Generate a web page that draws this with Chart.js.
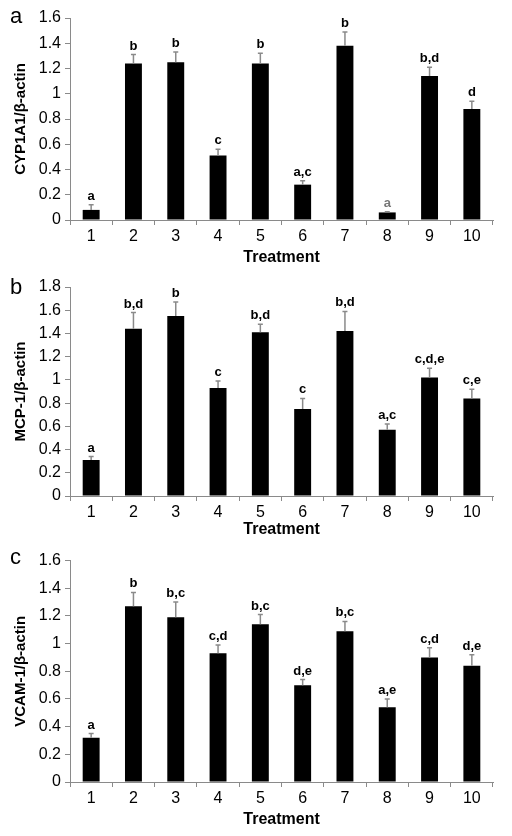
<!DOCTYPE html>
<html>
<head>
<meta charset="utf-8">
<script src="https://cdn.jsdelivr.net/npm/chart.js@4"></script>
<style>
  body { margin: 0; background: #fff; }
  .painel { position: absolute; left: 0; width: 512px; }
</style>
</head>
<body>
<div class="painel" style="top:0;height:270px"><canvas id="grafA"></canvas></div>
<div class="painel" style="top:270px;height:280px"><canvas id="grafB"></canvas></div>
<div class="painel" style="top:547px;height:289px"><canvas id="grafC"></canvas></div>
<script>
// Tratamentos (eixo x)
const tratamentos = ['1', '2', '3', '4', '5', '6', '7', '8', '9', '10'];

// Painel a - CYP1A1
const cypMedia = [0.08, 1.24, 1.25, 0.51, 1.24, 0.28, 1.38, 0.06, 1.14, 0.88];
const cypTopo  = [0.12, 1.31, 1.33, 0.56, 1.32, 0.31, 1.49, 0.065, 1.21, 0.94];
const cypLetras = ['a', 'b', 'b', 'c', 'b', 'a,c', 'b', 'a', 'b,d', 'd'];

// Painel b - MCP-1
const mcpMedia = [0.31, 1.44, 1.55, 0.93, 1.41, 0.75, 1.42, 0.57, 1.02, 0.84];
const mcpTopo  = [0.34, 1.58, 1.67, 0.99, 1.48, 0.84, 1.59, 0.62, 1.10, 0.92];
const mcpLetras = ['a', 'b,d', 'b', 'c', 'b,d', 'c', 'b,d', 'a,c', 'c,d,e', 'c,e'];

// Painel c - VCAM-1
const vcamMedia = [0.32, 1.27, 1.19, 0.93, 1.14, 0.70, 1.09, 0.54, 0.90, 0.84];
const vcamTopo  = [0.35, 1.37, 1.30, 0.99, 1.21, 0.74, 1.16, 0.60, 0.97, 0.92];
const vcamLetras = ['a', 'b', 'b,c', 'c,d', 'b,c', 'd,e', 'b,c', 'a,e', 'c,d', 'd,e'];

const fonte = "'Liberation Sans', Arial, sans-serif";
const cinza = '#8a8a8a';

// Plugin: barras de erro (só para cima) + letras de significância + letra do painel
const extras = {
  id: 'extras',
  afterDatasetsDraw(chart) {
    const o = chart.options.plugins.extras;
    const ctx = chart.ctx;
    const y = chart.scales.y;
    const meta = chart.getDatasetMeta(0);
    ctx.save();
    meta.data.forEach((bar, i) => {
      const cx = bar.x;
      const yTop = y.getPixelForValue(o.topo[i]);
      ctx.strokeStyle = cinza;
      ctx.lineWidth = 1.5;
      ctx.beginPath();
      ctx.moveTo(cx, bar.y);
      ctx.lineTo(cx, yTop);
      ctx.moveTo(cx - 2.5, yTop);
      ctx.lineTo(cx + 2.5, yTop);
      ctx.stroke();
      ctx.fillStyle = (o.cinzas || []).includes(i) ? '#777' : '#000';
      ctx.font = 'bold 13px ' + fonte;
      ctx.textAlign = 'center';
      ctx.textBaseline = 'alphabetic';
      ctx.fillText(o.letras[i], cx, yTop - 5);
    });
    ctx.fillStyle = '#000';
    ctx.font = '22px ' + fonte;
    ctx.textAlign = 'left';
    ctx.textBaseline = 'middle';
    ctx.fillText(o.painel, 10, o.painelY);
    ctx.restore();
  }
};

function criarGrafico(id, media, topo, letras, yMax, yTitulo, painel, padTop, painelY, eixoX, padBase, cinzas) {
  return new Chart(document.getElementById(id), {
    type: 'bar',
    data: {
      labels: tratamentos,
      datasets: [{
        data: media,
        backgroundColor: '#000',
        borderWidth: 0,
        barPercentage: 0.4,
        categoryPercentage: 1
      }]
    },
    options: {
      responsive: true,
      maintainAspectRatio: false,
      animation: false,
      layout: { padding: { top: padTop, right: 19, left: 0, bottom: padBase } },
      plugins: {
        legend: { display: false },
        tooltip: { enabled: false },
        extras: { topo: topo, letras: letras, painel: painel, painelY: painelY, cinzas: cinzas }
      },
      scales: {
        x: {
          offset: true,
          grid: { offset: true, drawOnChartArea: false, color: cinza, tickLength: 5 },
          border: { color: cinza },
          ticks: { color: '#000', font: { family: fonte, size: 16 }, padding: 2 },
          title: { display: true, text: 'Treatment', color: '#000', font: { family: fonte, size: 16, weight: 'bold' }, padding: { top: 0, bottom: 0 } },
          afterFit(s) { s.height = eixoX; }
        },
        y: {
          min: 0,
          max: yMax,
          ticks: {
            stepSize: 0.2, color: '#000', font: { family: fonte, size: 16 }, padding: 4,
            callback: v => String(Number(v.toFixed(1)))
          },
          grid: { drawOnChartArea: false, color: cinza, tickLength: 5 },
          border: { color: cinza },
          title: { display: true, text: yTitulo, color: '#000', font: { family: fonte, size: 15, weight: 'bold' }, padding: { top: 12, bottom: 4 } },
          afterFit(s) { s.width = 70; }
        }
      }
    },
    plugins: [extras]
  });
}

criarGrafico('grafA', cypMedia, cypTopo, cypLetras, 1.6, 'CYP1A1/β-actin', 'a', 18, 17, 47, 3, [7]);
criarGrafico('grafB', mcpMedia, mcpTopo, mcpLetras, 1.8, 'MCP-1/β-actin', 'b', 17, 18, 43, 11, []);
criarGrafico('grafC', vcamMedia, vcamTopo, vcamLetras, 1.6, 'VCAM-1/β-actin', 'c', 6, 11, 47, 7, []);
</script>
</body>
</html>
